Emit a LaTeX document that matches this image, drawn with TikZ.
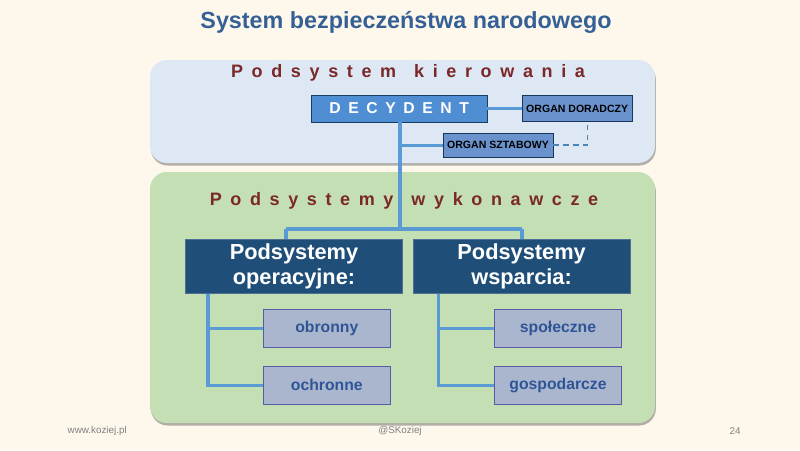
\documentclass[tikz,border=0pt]{standalone}
\usepackage{fontspec}
\setmainfont{Liberation Sans}
\newfontfamily\spaced[LetterSpace=48]{Liberation Sans Bold}
\usetikzlibrary{positioning,shadows,calc}
\definecolor{cream}{RGB}{254,248,236}
\definecolor{skyfill}{RGB}{221,232,244}
\definecolor{leaffill}{RGB}{197,223,180}
\definecolor{wine}{RGB}{122,40,40}
\definecolor{titleblue}{RGB}{53,96,150}
\definecolor{chief}{RGB}{80,142,212}
\definecolor{organ}{RGB}{106,147,206}
\definecolor{navy}{RGB}{31,78,121}
\definecolor{greyblue}{RGB}{170,182,206}
\definecolor{wire}{RGB}{91,155,213}
\definecolor{inkblue}{RGB}{47,85,151}
\tikzset{
  panel/.style={fill=#1,rounded corners=12pt,
    drop shadow={shadow xshift=0.6pt,shadow yshift=-1.8pt,opacity=0.5,fill=black!60}},
  head/.style={font=\spaced\fontsize{12.8}{14}\selectfont,text=wine},
  chiefbox/.style={draw=navy!80!black,fill=chief,minimum width=44mm,minimum height=6.8mm,
    text=white,font=\spaced\fontsize{11.2}{13}\selectfont},
  organbox/.style={draw=navy!70!black,fill=organ,minimum width=27.5mm,minimum height=6.5mm,
    inner sep=0pt,font=\bfseries\fontsize{7.5}{9}\selectfont},
  bigbox/.style={draw=navy!80!white,fill=navy,minimum width=54.2mm,minimum height=13.6mm,
    text=white,align=center,font=\bfseries\fontsize{15.5}{17.5}\selectfont},
  smallbox/.style={draw=gray!70!blue,fill=greyblue,minimum width=31.8mm,minimum height=9.4mm,
    text=inkblue,font=\bfseries\fontsize{11.2}{13}\selectfont},
  link/.style={draw=wire,line width=2.3pt},
  foot/.style={font=\fontsize{7}{8}\selectfont,text=gray},
}
\begin{document}
\begin{tikzpicture}
  \fill[cream] (0,0) rectangle (20,-11.25);
  \useasboundingbox (0,0) rectangle (20,-11.25);

  \node[font=\bfseries\fontsize{16.6}{19}\selectfont,text=titleblue] (title) at (10.15,-0.55)
    {System bezpieczeństwa narodowego};

  % panels
  \path[panel=skyfill] (3.75,-1.5) rectangle (16.375,-4.075);
  \path[panel=leaffill] (3.75,-4.3) rectangle (16.375,-10.575);

  \node[head] (kier) at (10.2,-1.82) {Podsystem\quad kierowania};
  \node[head] (wyk) at (10.1,-5.02) {Podsystemy\quad wykonawcze};

  % command level
  \node[chiefbox] (dec) at (9.98,-2.71) {DECYDENT};
  \node[organbox] (dor) at (14.43,-2.71) {ORGAN DORADCZY};
  \node[organbox,minimum height=6mm] (szt) at (12.45,-3.63) {ORGAN SZTABOWY};

  % executive level
  \node[bigbox] (oper) at (7.35,-6.655) {Podsystemy\\operacyjne:};
  \node[bigbox] (wsp) at (13.04,-6.655) {Podsystemy\\wsparcia:};
  \node[smallbox] (obr) at (8.17,-8.21) {obronny};
  \node[smallbox] (och) at (8.17,-9.63) {ochronne};
  \node[smallbox] (spo) at (13.95,-8.21) {społeczne};
  \node[smallbox] (gos) at (13.95,-9.63) {gospodarcze};

  \coordinate (join) at (10,-5.725);
  \coordinate (operin) at (7.15,-5.725);
  \coordinate (wspin) at (13.05,-5.725);

  % connectors
  \draw[link] (dec) -- (dor);
  \draw[link] (dec.south -| join) -- (join);
  \draw[link] (szt.west -| join) -- (szt.west);
  \draw[link] (operin) -- (wspin);
  \draw[link] (operin) -- (operin |- oper.north);
  \draw[link] (wspin) -- (wspin |- wsp.north);
  \draw[link] ([xshift=-2.15cm]oper.south) |- (och.west);
  \draw[link] ([xshift=-2.15cm]oper.south |- obr.west) -- (obr.west);
  \draw[link] ([xshift=-2.08cm]wsp.south) |- (gos.west);
  \draw[link] ([xshift=-2.08cm]wsp.south |- spo.west) -- (spo.west);
  \draw[draw=wire!85!black,line width=1.1pt,dash pattern=on 4pt off 3pt] (szt.east) -| ([xshift=2.6mm]dor.south);

  % footer
  \node[foot] (site) at (2.43,-10.77) {www.koziej.pl};
  \node[foot] (tw) at (10,-10.77) {@SKoziej};
  \node[foot] (page) at (18.38,-10.77) {24};
\end{tikzpicture}
\end{document}
